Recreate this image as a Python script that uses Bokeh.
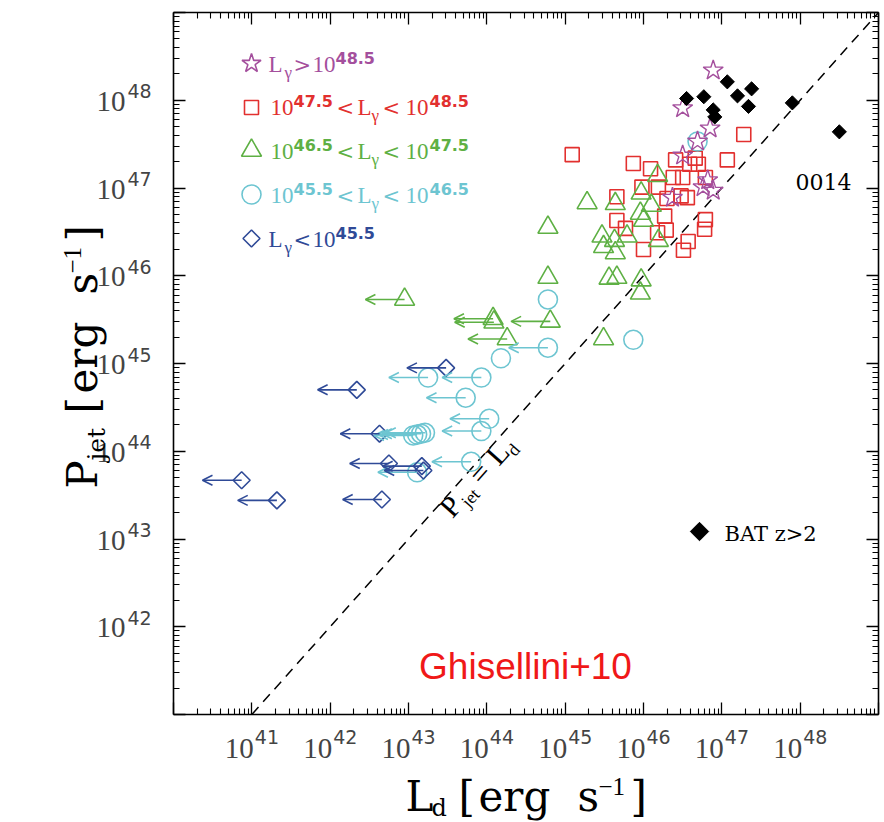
import math
from bokeh.plotting import figure
from bokeh.models import (Label, Arrow, OpenHead, ColumnDataSource, LogAxis,
                          FixedTicker, Range1d, CustomJSTickFormatter)
from bokeh.embed import file_html
from bokeh.resources import INLINE

# ---------------- data: log10 of luminosities [erg/s] ----------------
# BAT z>2 blazars (black filled diamonds)
bat_logLd = [46.55, 46.77, 47.07, 47.20, 47.38, 47.34, 46.89, 46.91, 47.90, 48.50]
bat_logPj = [48.02, 48.04, 48.21, 48.05, 48.13, 47.93, 47.89, 47.81, 47.97, 47.64]

# L_gamma > 10^48.5 (stars)
star_logLd = [46.89, 46.50, 46.85, 46.69, 46.50, 46.82, 46.89, 46.76, 46.37]
star_logPj = [48.34, 47.91, 47.68, 47.53, 47.37, 47.09, 46.97, 47.01, 46.89]

# 10^47.5 < L_gamma < 10^48.5 (squares)
sq_logLd = [45.09, 47.28, 47.07, 45.87, 46.09, 46.41, 46.66, 46.59, 46.70, 46.38,
            46.50, 46.79, 45.98, 46.19, 45.66, 46.30, 46.48, 46.56, 46.27, 45.66,
            45.77, 46.18, 46.29, 46.79, 46.78, 46.00, 46.57, 46.51]
sq_logPj = [47.38, 47.61, 47.32, 47.28, 47.22, 47.32, 47.34, 47.27, 47.27, 47.12,
            47.12, 47.12, 47.01, 47.01, 46.90, 46.88, 46.91, 46.89, 46.68, 46.63,
            46.54, 46.49, 46.52, 46.64, 46.53, 46.30, 46.39, 46.29]

# 10^46.5 < L_gamma < 10^47.5 (triangles) - detections and upper limits on L_d
tri_logLd = [45.28, 44.78, 45.64, 46.18, 45.97, 46.10, 45.96, 46.00, 45.47, 45.63,
             45.79, 45.49, 45.64, 46.19, 44.78, 45.56, 45.66, 45.97, 45.96, 45.49]
tri_logPj = [46.83, 46.55, 46.82, 47.14, 46.94, 46.80, 46.71, 46.63, 46.45, 46.40,
             46.45, 46.33, 46.26, 46.40, 45.98, 45.97, 45.98, 45.95, 45.80, 45.28]
tri_ul_logLd = [42.95, 44.08, 44.09, 44.81, 44.26]
tri_ul_logPj = [45.73, 45.51, 45.47, 45.48, 45.28]

# 10^45.5 < L_gamma < 10^46.5 (circles)
cir_logLd = [44.78, 44.18, 45.87, 46.69]
cir_logPj = [45.73, 45.06, 45.27, 47.53]
cir_ul_logLd = [44.78, 43.25, 43.93, 43.73, 44.03, 43.93, 43.06, 43.11, 43.16, 43.21, 43.80, 43.11]
cir_ul_logPj = [45.18, 44.84, 44.84, 44.61, 44.37, 44.23, 44.18, 44.19, 44.20, 44.21, 43.88, 43.76]

# L_gamma < 10^45.5 (open diamonds, all upper limits)
dia_ul_logLd = [43.48, 42.34, 42.63, 42.75, 43.17, 43.19, 40.87, 41.32, 42.66]
dia_ul_logPj = [44.95, 44.70, 44.20, 43.86, 43.83, 43.78, 43.67, 43.44, 43.45]

x_tick_exp = [41, 42, 43, 44, 45, 46, 47, 48]
y_tick_exp = [42, 43, 44, 45, 46, 47, 48]
equality_exp = [41, 49]          # P_jet = L_d line end points (log10)

# ---------------- style / layout ----------------
C_STAR, C_SQ, C_TRI, C_CIR, C_DIA = "#a44f9d", "#e2302f", "#5eb044", "#6dc5d1", "#2f4a97"
SERIF, SERIF2, SANS = "Liberation Serif", "DejaVu Serif", "DejaVu Sans"
W, H = 884, 822
BOX_L, BOX_R, BOX_T, BOX_B = 173, 878, 12, 714      # plot box in canvas pixels
X_LO, X_HI, Y_LO, Y_HI = 40, 49, 41, 49              # plot box in log10 units
PXD_X = (BOX_R - BOX_L) / (X_HI - X_LO)
PXD_Y = (BOX_B - BOX_T) / (Y_HI - Y_LO)
UL_DEX = 0.5   # length of the upper-limit arrows in dex
KB = 0.31      # baseline correction (fraction of font size)


def to_data(cx, cy):
    return (10.0 ** (X_LO + (cx - BOX_L) / PXD_X), 10.0 ** (Y_HI - (cy - BOX_T) / PXD_Y))


x0, y0 = to_data(0, H)
x1, y1 = to_data(W, 0)
p = figure(width=W, height=H, x_axis_type="log", y_axis_type="log",
           x_range=Range1d(x0, x1), y_range=Range1d(y0, y1),
           output_backend="svg", toolbar_location=None, min_border=0)
p.outline_line_color = None
p.xgrid.visible = False
p.ygrid.visible = False
p.add_layout(LogAxis(), "above")
p.add_layout(LogAxis(), "right")

xt = FixedTicker(ticks=[10.0 ** k for k in range(X_LO, X_HI + 1)],
                 minor_ticks=[m * 10.0 ** k for k in range(X_LO, X_HI) for m in range(2, 10)])
yt = FixedTicker(ticks=[10.0 ** k for k in range(Y_LO, Y_HI + 1)],
                 minor_ticks=[m * 10.0 ** k for k in range(Y_LO, Y_HI) for m in range(2, 10)])
blank = CustomJSTickFormatter(code="return ''")
for ax in list(p.xaxis) + list(p.yaxis):
    ax.formatter = blank
    ax.major_label_standoff = 0
    ax.major_label_text_font_size = "0px"
    ax.axis_line_color = "black"
    ax.axis_line_width = 1.6
    ax.major_tick_in, ax.major_tick_out = 12, 0
    ax.minor_tick_in, ax.minor_tick_out = 6, 0
    ax.major_tick_line_color = "black"
    ax.minor_tick_line_color = "black"
    ax.major_tick_line_width = 1.3
    ax.minor_tick_line_width = 1.1
for ax in p.xaxis:
    ax.ticker = xt
    ax.bounds = (10.0 ** X_LO, 10.0 ** X_HI)
for ax in p.yaxis:
    ax.ticker = yt
    ax.bounds = (10.0 ** Y_LO, 10.0 ** Y_HI)
p.below[0].fixed_location = 10.0 ** Y_LO
p.above[0].fixed_location = 10.0 ** Y_HI
p.left[0].fixed_location = 10.0 ** X_LO
p.right[0].fixed_location = 10.0 ** X_HI

# P_jet = L_d
p.line([10.0 ** e for e in equality_exp], [10.0 ** e for e in equality_exp],
       line_color="black", line_width=1.5, line_dash="10 7")


def lin(v):
    return [10.0 ** a for a in v]


def add_arrows(lx, ly, color):
    src = ColumnDataSource(dict(x0=lin(lx), y0=lin(ly),
                                x1=[10.0 ** (a - UL_DEX) for a in lx], y1=lin(ly)))
    p.add_layout(Arrow(end=OpenHead(size=10, line_color=color, line_width=1.6),
                       x_start="x0", y_start="y0", x_end="x1", y_end="y1", source=src,
                       line_color=color, line_width=1.6))


add_arrows(tri_ul_logLd, tri_ul_logPj, C_TRI)
add_arrows(cir_ul_logLd, cir_ul_logPj, C_CIR)
add_arrows(dia_ul_logLd, dia_ul_logPj, C_DIA)

LW = 1.6
p.scatter(lin(sq_logLd), lin(sq_logPj), marker="square", size=14, fill_color=None, line_color=C_SQ, line_width=LW)
p.scatter(lin(tri_logLd + tri_ul_logLd), lin(tri_logPj + tri_ul_logPj), marker="triangle", size=20,
          fill_color=None, line_color=C_TRI, line_width=LW)
p.scatter(lin(cir_logLd + cir_ul_logLd), lin(cir_logPj + cir_ul_logPj), marker="circle", size=19,
          fill_color=None, line_color=C_CIR, line_width=LW)
p.scatter(lin(dia_ul_logLd), lin(dia_ul_logPj), marker="square", angle=math.pi / 4, size=12,
          fill_color=None, line_color=C_DIA, line_width=LW)
p.scatter(lin(star_logLd), lin(star_logPj), marker="star", size=21, fill_color=None,
          line_color=C_STAR, line_width=1.4)
p.scatter(lin(bat_logLd), lin(bat_logPj), marker="square", angle=math.pi / 4, size=10,
          fill_color="black", line_color="black")


# ---------------- legend & text ----------------
def put(text, cx, cy, size, font, color="black", align="left", angle=0.0, style="normal"):
    # (cx, cy): wanted alphabetic-baseline anchor in canvas pixels
    cx -= KB * size * math.sin(angle)
    cy -= KB * size * math.cos(angle)
    dx, dy = to_data(cx, cy)
    p.add_layout(Label(x=dx, y=dy, x_units="data", y_units="data", text=text,
                       text_font=font, text_font_size=f"{size}px", text_color=color,
                       text_align=align, text_baseline="alphabetic", angle=angle,
                       text_font_style=style))


legend_specs = [("star", 20, 0.0, C_STAR, 63), ("square", 14, 0.0, C_SQ, 107),
                ("triangle", 20, 0.0, C_TRI, 150), ("circle", 19, 0.0, C_CIR, 194),
                ("square", 12, math.pi / 4, C_DIA, 238)]
for mk, sz, ang, col, cy in legend_specs:
    lx, ly = to_data(251, cy)
    p.scatter([lx], [ly], marker=mk, size=sz, angle=ang, fill_color=None, line_color=col, line_width=LW)
bx, by = to_data(699, 531)
p.scatter([bx], [by], marker="square", angle=math.pi / 4, size=13, fill_color="black", line_color="black")

LS, SUB, SUP = 23, 17, 16
def legend_row(parts, base, color):
    for kind, txt, cx in parts:
        if kind == "n":
            put(txt, cx, base, LS, SERIF, color)
        elif kind == "rel":
            put(txt, cx, base, 21, SERIF2, color)
        elif kind == "sub":
            put(txt, cx, base + 6, SUB, SERIF, color)
        else:
            put(txt, cx, base - 9, SUP, SANS, color, style="bold")


legend_row([("n", "L", 268), ("sub", "γ", 284), ("rel", ">", 293), ("n", "10", 312), ("sup", "48.5", 335)], 71, C_STAR)
for (lo, hi, col, base) in [("47.5", "48.5", C_SQ, 114), ("46.5", "47.5", C_TRI, 158), ("45.5", "46.5", C_CIR, 202)]:
    legend_row([("n", "10", 270), ("sup", lo, 293), ("rel", "<", 336), ("n", "L", 357), ("sub", "γ", 371),
                ("rel", "<", 382), ("n", "10", 405), ("sup", hi, 429)], base, col)
legend_row([("n", "L", 268), ("sub", "γ", 284), ("rel", "<", 293), ("n", "10", 312), ("sup", "45.5", 335)], 246, C_DIA)

put("BAT z>2", 724, 540, 21, SERIF2)
put("0014", 795, 188, 22, SERIF2)
put("Ghisellini+10", 525, 677, 37, "Liberation Sans", color="#f01818", align="center")

# P_jet = L_d along the dashed line
th = math.atan2(PXD_Y, PXD_X)
ux, uy = math.cos(th), -math.sin(th)       # along text (canvas, y down)
dx, dy = math.sin(th), math.cos(th)        # "down" for subscripts
sx0, sy0 = 451, 518
for txt, s, sh, sz in [("P", 0, 0, 30), ("jet", 19, 6, 18), ("=", 44, 0, 30), ("L", 70, 0, 30), ("d", 88, 6, 18)]:
    put(txt, sx0 + s * ux + sh * dx, sy0 + s * uy + sh * dy, sz, SERIF, angle=th)

# tick labels
TS, TSS = 29, 19
for k in x_tick_exp:
    tx = 10.0 ** k
    p.add_layout(Label(x=tx, y=to_data(0, 757)[1], x_units="data", y_units="data", x_offset=2,
                       y_offset=KB * TS, text="10", text_font=SERIF, text_font_size=f"{TS}px",
                       text_align="right", text_baseline="alphabetic"))
    p.add_layout(Label(x=tx, y=to_data(0, 742)[1], x_units="data", y_units="data", x_offset=3,
                       y_offset=KB * TSS, text=str(k), text_font=SANS, text_font_size=f"{TSS}px",
                       text_align="left", text_baseline="alphabetic"))
for k in y_tick_exp:
    ty = 10.0 ** k
    p.add_layout(Label(x=to_data(125, 0)[0], y=ty, x_units="data", y_units="data",
                       y_offset=-10 + KB * TS, text="10", text_font=SERIF, text_font_size=f"{TS}px",
                       text_align="right", text_baseline="alphabetic"))
    p.add_layout(Label(x=to_data(127, 0)[0], y=ty, x_units="data", y_units="data",
                       y_offset=3 + KB * TSS, text=str(k), text_font=SANS, text_font_size=f"{TSS}px",
                       text_align="left", text_baseline="alphabetic"))

# axis titles
AX = 42
XB = 809
for txt, cx, sh, sz, fnt in [("L", 405, 0, AX, SERIF2), ("d", 431, 6, 24, SERIF2), ("[", 458, 0, AX, SERIF2),
                             ("erg", 478, 0, AX, SERIF2), ("s", 577, 0, AX, SERIF2),
                             ("−1", 598, -15, 25, SERIF), ("]", 630, 0, AX, SERIF2)]:
    put(txt, cx, XB + sh, sz, fnt)
Y0 = 488
for txt, s, sh, sz, fnt in [("P", 0, 0, AX, SERIF2), ("jet", 28, 9, 25, SERIF2), ("[", 75, 0, AX, SERIF2),
                            ("erg", 95, 0, AX, SERIF2), ("s", 194, 0, AX, SERIF2),
                            ("−1", 215, -15, 25, SERIF), ("]", 247, 0, AX, SERIF2)]:
    put(txt, 95 + sh, Y0 - s, sz, fnt, angle=math.pi / 2)

open("out.html", "w").write(file_html(p, INLINE))
